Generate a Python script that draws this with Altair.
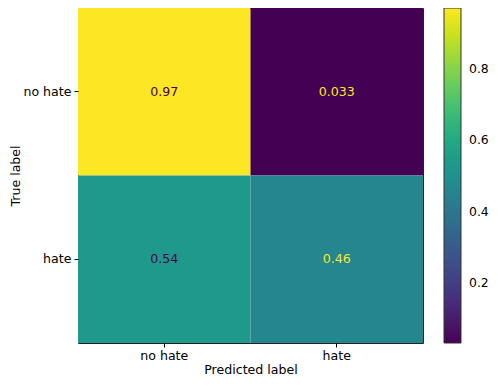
import altair as alt
import pandas as pd

classes = ["no hate", "hate"]
true_labels = ["no hate", "no hate", "hate", "hate"]
pred_labels = ["no hate", "hate", "no hate", "hate"]
values = [0.97, 0.033, 0.54, 0.46]
texts = ["0.97", "0.033", "0.54", "0.46"]
cbar_ticks = [0.2, 0.4, 0.6, 0.8]

df = pd.DataFrame({"true": true_labels, "pred": pred_labels, "value": values, "label": texts})

FONT = "DejaVu Sans"
FS = 12.6
H = 335
W = 345

x_enc = alt.X("pred:N", sort=classes, title="Predicted label",
              axis=alt.Axis(labelAngle=0, titlePadding=2, labelPadding=2))
y_enc = alt.Y("true:N", sort=classes, title="True label",
              axis=alt.Axis(titleX=-56))

base = alt.Chart(df)

rect = base.mark_rect().encode(
    x=x_enc,
    y=y_enc,
    color=alt.Color(
        "value:Q",
        scale=alt.Scale(scheme="viridis", domain=[min(values), max(values)]),
        legend=alt.Legend(
            title=None, orient="right", offset=21, padding=0,
            direction="vertical",
            gradientLength=H, gradientThickness=17,
            gradientStrokeColor="#333", gradientStrokeWidth=1,
            values=cbar_ticks, format=".1f",
            labelFont=FONT, labelFontSize=12.4, labelColor="#000",
            labelOffset=8,
        ),
    ),
)

text = base.mark_text(font=FONT, fontSize=FS).encode(
    x=x_enc,
    y=y_enc,
    text="label:N",
    color=alt.condition(alt.datum.value >= 0.5, alt.value("#440154"), alt.value("#fde725")),
)

chart = (rect + text).properties(
    width=W, height=H,
    autosize=alt.AutoSizeParams(type="none"),
    padding={"left": 70, "top": 0, "right": 482 - 70 - W, "bottom": 372 - H},
).configure_view(
    stroke="#222", strokeWidth=1
).configure_axis(
    domain=False, grid=False, tickColor="#000", tickSize=4, tickWidth=1,
    labelPadding=3, labelFont=FONT, labelFontSize=FS, labelColor="#000",
    titleFont=FONT, titleFontSize=FS, titleFontWeight="normal", titleColor="#000",
)

chart.save("out.html", embed_options={"renderer": "svg", "actions": False})
